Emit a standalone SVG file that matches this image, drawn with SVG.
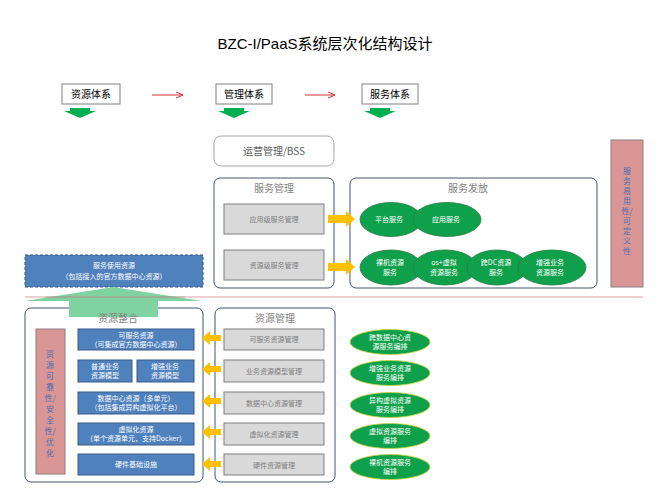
<svg xmlns="http://www.w3.org/2000/svg" width="668" height="500" viewBox="0 0 668 500">
<style>
text{font-family:"Noto Sans CJK SC","Liberation Sans",sans-serif;}
.title{font-size:15px;fill:#000;font-family:"Liberation Sans","Noto Sans CJK SC",sans-serif;}
.top{fill:#fff;stroke:#7f7f7f;stroke-width:1;}
.topt{font-size:10px;fill:#000;text-anchor:middle;}
.cont{fill:#fff;stroke:#44546a;stroke-width:1;}
.ctitle{font-size:10px;fill:#7f7f7f;text-anchor:middle;}
.gbox{fill:#d9d9d9;stroke:#7f7f7f;stroke-width:1;}
.gt{font-size:7px;fill:#7f7f7f;text-anchor:middle;}
.bbox{fill:#4f81bd;stroke:#385d8a;stroke-width:1;}
.bt{font-size:7px;fill:#fff;text-anchor:middle;}
.ell{fill:#0fa04c;stroke:#2c7a45;stroke-width:0.8;}
.ellr{fill:#0fa04c;stroke:#c8d23c;stroke-width:0.8;}
.et{font-size:7px;fill:#fff;text-anchor:middle;}
.pink{fill:#d99694;stroke:#8c7f80;stroke-width:1;}
.vt{fill:#4a6db5;text-anchor:middle;}
.org{fill:#ffc000;}
.grn{fill:#00b050;}
</style>
<defs>
<marker id="ra" markerWidth="8" markerHeight="8" refX="7" refY="4" orient="auto" markerUnits="userSpaceOnUse">
<path d="M0,1 L7,4 L0,7" fill="none" stroke="#e03030" stroke-width="1"/>
</marker>
</defs>
<rect width="668" height="500" fill="#fff"/>
<text class="title" x="325" y="49" text-anchor="middle">BZC-I/PaaS系统层次化结构设计</text>

<g id="n-ziyuantixi"><rect class="top" x="62" y="84" width="58" height="20"/><text class="topt" x="91" y="98">资源体系</text></g>
<g id="n-guanlitixi"><rect class="top" x="216" y="84" width="56" height="20"/><text class="topt" x="244" y="98">管理体系</text></g>
<g id="n-fuwutixi"><rect class="top" x="362" y="84" width="56" height="20"/><text class="topt" x="390" y="98">服务体系</text></g>

<g id="connectors">
<line x1="152" y1="95" x2="183" y2="95" stroke="#e03030" stroke-width="1" marker-end="url(#ra)"/>
<line x1="305" y1="95" x2="335" y2="95" stroke="#e03030" stroke-width="1" marker-end="url(#ra)"/>
<path class="grn" d="M70,108 H90 V111 H96 L80,118 L64,111 H70 Z"/>
<path class="grn" d="M224,108 H244 V111 H250 L234,118 L218,111 H224 Z"/>
<path class="grn" d="M370,108 H390 V111 H396 L380,118 L364,111 H370 Z"/>
</g>

<g id="n-bss"><rect x="214" y="136" width="120" height="30" rx="7" fill="#fff" stroke="#a6a6a6"/><text x="274" y="155" font-size="10" fill="#595959" text-anchor="middle">运营管理/BSS</text></g>

<g id="n-fuwuguanli">
<rect class="cont" x="214" y="178" width="120" height="110" rx="6"/>
<text class="ctitle" x="274" y="192">服务管理</text>
<rect class="gbox" x="224" y="204" width="100" height="30"/><text class="gt" x="274" y="222">应用级服务管理</text>
<rect class="gbox" x="224" y="250" width="100" height="30"/><text class="gt" x="274" y="268">资源级服务管理</text>
</g>

<g id="n-fuwufafang">
<rect class="cont" x="350" y="178" width="247" height="110" rx="6"/>
<text class="ctitle" x="468" y="192">服务发放</text>
<ellipse class="ell" cx="391" cy="219.5" rx="31" ry="17"/><text class="et" x="389" y="222">平台服务</text>
<ellipse class="ell" cx="447" cy="219.5" rx="34" ry="17"/><text class="et" x="446" y="222">应用服务</text>
<ellipse class="ell" cx="391" cy="267.5" rx="31" ry="17.5"/><text class="et" x="390" y="265">裸机资源</text><text class="et" x="390" y="275">服务</text>
<ellipse class="ell" cx="445" cy="267.5" rx="32" ry="17.5"/><text class="et" x="444" y="265">os+虚拟</text><text class="et" x="444" y="275">资源服务</text>
<ellipse class="ell" cx="497" cy="267.5" rx="30" ry="17.5"/><text class="et" x="496" y="265">跨DC资源</text><text class="et" x="496" y="275">服务</text>
<ellipse class="ell" cx="552" cy="267.5" rx="34" ry="17.5"/><text class="et" x="550" y="265">增强业务</text><text class="et" x="550" y="275">资源服务</text>
</g>

<g id="n-yiyongxing">
<rect class="pink" x="611" y="140" width="32" height="147"/>
<text class="vt" font-size="8">
<tspan x="627" y="174">服</tspan><tspan x="627" y="184">务</tspan><tspan x="627" y="194">易</tspan><tspan x="627" y="204">用</tspan><tspan x="627" y="214">性/</tspan><tspan x="627" y="224">可</tspan><tspan x="627" y="234">定</tspan><tspan x="627" y="244">义</tspan><tspan x="627" y="254">性</tspan>
</text>
</g>

<g id="n-fuwushiyong">
<rect x="25" y="255" width="178" height="32" fill="#4f81bd" stroke="#2f528f" stroke-width="1" stroke-dasharray="3,2"/>
<text class="bt" x="114" y="268">服务使用资源</text>
<text class="bt" x="114" y="279">（包括接入的官方数据中心资源）</text>
</g>

<g id="n-ziyuanzhenghe">
<rect class="cont" x="25" y="308" width="178" height="174" rx="6"/>
</g>

<g id="up-arrow">
<path d="M69,317 V301 H25 L113,287 L202,301 H158 V317 Z" fill="#7fd3a1"/>
</g>
<line x1="25" y1="297" x2="643" y2="297" stroke="#d9a0a0" stroke-width="1"/>
<line x1="45" y1="297" x2="185" y2="297" stroke="#4f7f60" stroke-width="0.6" opacity="0.6"/>

<g id="n-ziyuanzhenghe-content">
<text class="ctitle" x="118" y="322">资源整合</text>
<rect class="pink" x="36" y="329" width="29" height="145"/>
<text class="vt" font-size="8">
<tspan x="50" y="357">资</tspan><tspan x="50" y="368">源</tspan><tspan x="50" y="379">可</tspan><tspan x="50" y="390">靠</tspan><tspan x="50" y="401">性/</tspan><tspan x="50" y="412">安</tspan><tspan x="50" y="423">全</tspan><tspan x="50" y="434">性/</tspan><tspan x="50" y="445">优</tspan><tspan x="50" y="456">化</tspan>
</text>
<rect class="bbox" x="78" y="329" width="116" height="21"/><text class="bt" x="136" y="338">可服务资源</text><text class="bt" x="136" y="347">（可集成官方数据中心资源）</text>
<rect class="bbox" x="78" y="360" width="54" height="22"/><text class="bt" x="105" y="369">普通业务</text><text class="bt" x="105" y="378">资源模型</text>
<rect class="bbox" x="137" y="360" width="57" height="22"/><text class="bt" x="165" y="369">增强业务</text><text class="bt" x="165" y="378">资源模型</text>
<rect class="bbox" x="78" y="392" width="116" height="22"/><text class="bt" x="136" y="401">数据中心资源（多单元）</text><text class="bt" x="136" y="410" font-size="6.5">（包括集成异构虚拟化平台）</text>
<rect class="bbox" x="78" y="423" width="116" height="22"/><text class="bt" x="136" y="432">虚拟化资源</text><text class="bt" x="136" y="441" font-size="6.5">（单个资源单元，支持Docker）</text>
<rect class="bbox" x="78" y="454" width="116" height="21"/><text class="bt" x="136" y="467">硬件基础设施</text>
</g>

<g id="n-ziyuanguanli">
<rect class="cont" x="215" y="308" width="120" height="174" rx="6"/>
<text class="ctitle" x="275" y="322">资源管理</text>
<rect class="gbox" x="224" y="329" width="100" height="21"/><text class="gt" x="274" y="342">可服务资源管理</text>
<rect class="gbox" x="224" y="360" width="100" height="22"/><text class="gt" x="274" y="374">业务资源模型管理</text>
<rect class="gbox" x="224" y="392" width="100" height="22"/><text class="gt" x="274" y="406">数据中心资源管理</text>
<rect class="gbox" x="224" y="423" width="100" height="22"/><text class="gt" x="274" y="437">虚拟化资源管理</text>
<rect class="gbox" x="224" y="454" width="100" height="21"/><text class="gt" x="274" y="468">硬件资源管理</text>
</g>

<g id="orange-arrows">
<path class="org" d="M328,215 H346 V211 L355,219 L346,227 V223 H328 Z"/>
<path class="org" d="M328,263 H346 V259 L355,267 L346,275 V271 H328 Z"/>
<path class="org" d="M221,335 H210 V331 L202,338 L210,345 V341 H221 Z"/>
<path class="org" d="M221,366 H210 V362 L202,369 L210,376 V372 H221 Z"/>
<path class="org" d="M221,398 H210 V394 L202,401 L210,408 V404 H221 Z"/>
<path class="org" d="M221,429 H210 V425 L202,432 L210,439 V435 H221 Z"/>
<path class="org" d="M221,461 H210 V457 L202,464 L210,471 V467 H221 Z"/>
</g>

<g id="n-bianpai">
<ellipse class="ellr" cx="390" cy="342" rx="40" ry="12.5"/><text class="et" x="390" y="340">跨数据中心资</text><text class="et" x="390" y="349">源服务编排</text>
<ellipse class="ellr" cx="390" cy="373" rx="40" ry="12.5"/><text class="et" x="390" y="371">增强业务资源</text><text class="et" x="390" y="380">服务编排</text>
<ellipse class="ellr" cx="390" cy="405" rx="40" ry="12.5"/><text class="et" x="390" y="403">异构虚拟资源</text><text class="et" x="390" y="412">服务编排</text>
<ellipse class="ellr" cx="390" cy="436" rx="40" ry="12.5"/><text class="et" x="390" y="434">虚拟资源服务</text><text class="et" x="390" y="443">编排</text>
<ellipse class="ellr" cx="390" cy="467" rx="40" ry="12.5"/><text class="et" x="390" y="465">裸机资源服务</text><text class="et" x="390" y="474">编排</text>
</g>
</svg>
